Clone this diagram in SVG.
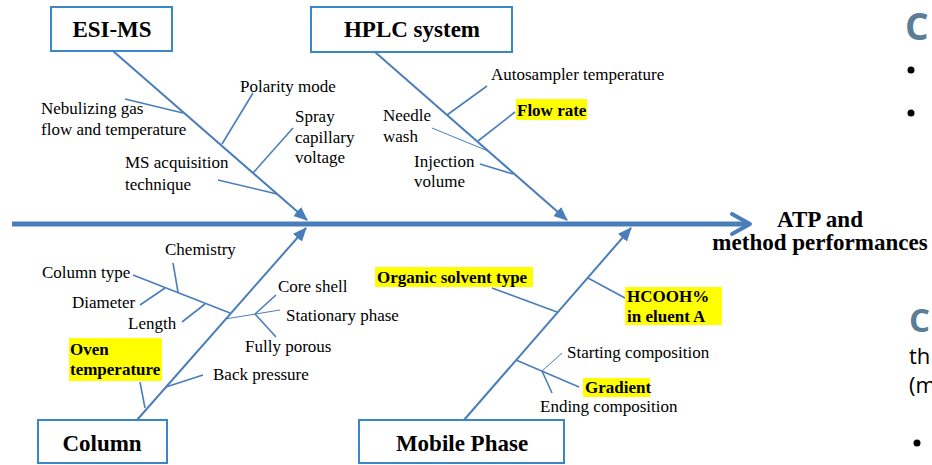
<svg xmlns="http://www.w3.org/2000/svg" width="932" height="465" viewBox="0 0 932 465">
<defs>
<marker id="ah" markerUnits="userSpaceOnUse" markerWidth="16" markerHeight="14" refX="13" refY="6" orient="auto">
<path d="M0,0 L14,6 L0,12 z" fill="#4a7ebb"/>
</marker>
<style>
.box{fill:#fff;stroke:#3a87c8;stroke-width:2}
.bt{font-family:'Liberation Serif','DejaVu Serif','Times New Roman',serif;font-weight:bold;font-size:23px;fill:#000;text-anchor:middle}
.t{font-family:'Liberation Serif','DejaVu Serif','Times New Roman',serif;font-size:17px;fill:#000}
.tb{font-family:'Liberation Serif','DejaVu Serif','Times New Roman',serif;font-size:17px;font-weight:bold;fill:#000}
.hl{fill:#ffff00}
.spine{stroke:#4a7ebb;stroke-width:2;fill:none}
.br{stroke:#4a7ebb;stroke-width:1.6;fill:none}
.thin{stroke:#4a7ebb;stroke-width:1;fill:none}
.slideC{font-family:'Open Sans','Liberation Sans',sans-serif;font-weight:bold;fill:#5b7d96}
.slide{font-family:'Open Sans','Liberation Sans',sans-serif;font-size:22px;fill:#000}
</style>
</defs>
<rect width="932" height="465" fill="#fff"/>

<g id="connectors">
<line x1="12" y1="224" x2="749" y2="224" stroke="#4a7ebb" stroke-width="5"/>
<polyline points="732,214 750,224 732,234" fill="none" stroke="#4a7ebb" stroke-width="4" stroke-linecap="round" stroke-linejoin="round"/>
<line class="spine" x1="113" y1="51" x2="307" y2="220" marker-end="url(#ah)"/>
<line class="spine" x1="375" y1="52" x2="567" y2="220" marker-end="url(#ah)"/>
<line class="spine" x1="137" y1="420" x2="306" y2="228" marker-end="url(#ah)"/>
<line class="spine" x1="464" y1="420" x2="631" y2="228" marker-end="url(#ah)"/>
<line class="br" x1="125" y1="99" x2="183" y2="113"/>
<line class="br" x1="253" y1="93" x2="222" y2="144"/>
<line class="br" x1="293" y1="128" x2="253" y2="173"/>
<line class="br" x1="218" y1="180" x2="277" y2="194"/>
<line class="br" x1="487" y1="86" x2="447" y2="115"/>
<line class="br" x1="515" y1="112" x2="478" y2="141"/>
<line class="thin" x1="432" y1="128" x2="488" y2="151"/>
<line class="br" x1="480" y1="164" x2="513" y2="174"/>
<line class="br" x1="133" y1="275" x2="230" y2="313"/>
<line class="br" x1="173" y1="263" x2="178" y2="292"/>
<line class="br" x1="140" y1="305" x2="165" y2="288"/>
<line class="br" x1="182" y1="322" x2="205" y2="304"/>
<line class="thin" x1="225" y1="319" x2="280" y2="310"/>
<line class="br" x1="276" y1="295" x2="255" y2="314"/>
<line class="br" x1="276" y1="337" x2="255" y2="314"/>
<line class="br" x1="203" y1="375" x2="166" y2="387"/>
<line class="br" x1="140" y1="382" x2="145" y2="408"/>
<line class="br" x1="492" y1="288" x2="557" y2="312"/>
<line class="br" x1="588" y1="278" x2="625" y2="298"/>
<line class="br" x1="516" y1="360" x2="579" y2="387"/>
<line class="thin" x1="562" y1="353" x2="542" y2="371"/>
<line class="br" x1="542" y1="371" x2="552" y2="393"/>
</g>

<g id="esi-ms">
<rect class="box" x="51" y="7" width="121" height="44"/>
<text class="bt" x="112" y="37">ESI-MS</text>
</g>
<g id="hplc">
<rect class="box" x="311" y="7" width="201" height="45"/>
<text class="bt" x="412" y="37">HPLC system</text>
</g>
<g id="column">
<rect class="box" x="38" y="420" width="129" height="43"/>
<text class="bt" x="102" y="451">Column</text>
</g>
<g id="mobile-phase">
<rect class="box" x="359" y="420" width="205" height="43"/>
<text class="bt" x="462" y="451">Mobile Phase</text>
</g>
<g id="outcome">
<text class="bt" x="820" y="227">ATP and</text>
<text class="bt" x="820" y="250">method performances</text>
</g>

<g id="esi-causes">
<text class="t" x="41" y="114">Nebulizing gas</text>
<text class="t" x="41" y="135">flow and temperature</text>
<text class="t" x="240" y="92">Polarity mode</text>
<text class="t" x="295" y="122">Spray</text>
<text class="t" x="295" y="143">capillary</text>
<text class="t" x="295" y="163">voltage</text>
<text class="t" x="125" y="168">MS acquisition</text>
<text class="t" x="125" y="190">technique</text>
</g>
<g id="hplc-causes">
<text class="t" x="491" y="80">Autosampler temperature</text>
<rect class="hl" x="516" y="99" width="71" height="21"/>
<text class="tb" x="517" y="116">Flow rate</text>
<text class="t" x="383" y="121">Needle</text>
<text class="t" x="383" y="142">wash</text>
<text class="t" x="414" y="167">Injection</text>
<text class="t" x="414" y="187">volume</text>
</g>
<g id="column-causes">
<text class="t" x="165" y="255">Chemistry</text>
<text class="t" x="42" y="278">Column type</text>
<text class="t" x="72" y="308">Diameter</text>
<text class="t" x="128" y="329">Length</text>
<text class="t" x="278" y="292">Core shell</text>
<text class="t" x="286" y="321">Stationary phase</text>
<text class="t" x="245" y="352">Fully porous</text>
<text class="t" x="213" y="380">Back pressure</text>
<rect class="hl" x="69" y="338" width="93" height="43"/>
<text class="tb" x="70" y="355">Oven</text>
<text class="tb" x="70" y="375">temperature</text>
</g>
<g id="mobile-causes">
<rect class="hl" x="375" y="267" width="158" height="20"/>
<text class="tb" x="377" y="283">Organic solvent type</text>
<rect class="hl" x="625" y="287" width="97" height="38"/>
<text class="tb" x="627" y="302">HCOOH%</text>
<text class="tb" x="627" y="322">in eluent A</text>
<text class="t" x="567" y="358">Starting composition</text>
<rect class="hl" x="583" y="378" width="67" height="19"/>
<text class="tb" x="585" y="393">Gradient</text>
<text class="t" x="540" y="412">Ending composition</text>
</g>

<g id="slide-fragments">
<text class="slideC" x="905" y="40" font-size="37">C</text>
<circle cx="911" cy="70" r="3.5" fill="#000"/>
<circle cx="911" cy="113" r="3.5" fill="#000"/>
<text class="slideC" x="909" y="332" font-size="33">C</text>
<text class="slide" x="909" y="364">th</text>
<text class="slide" x="909" y="393">(m</text>
<circle cx="917" cy="443" r="3.5" fill="#000"/>
</g>
</svg>
